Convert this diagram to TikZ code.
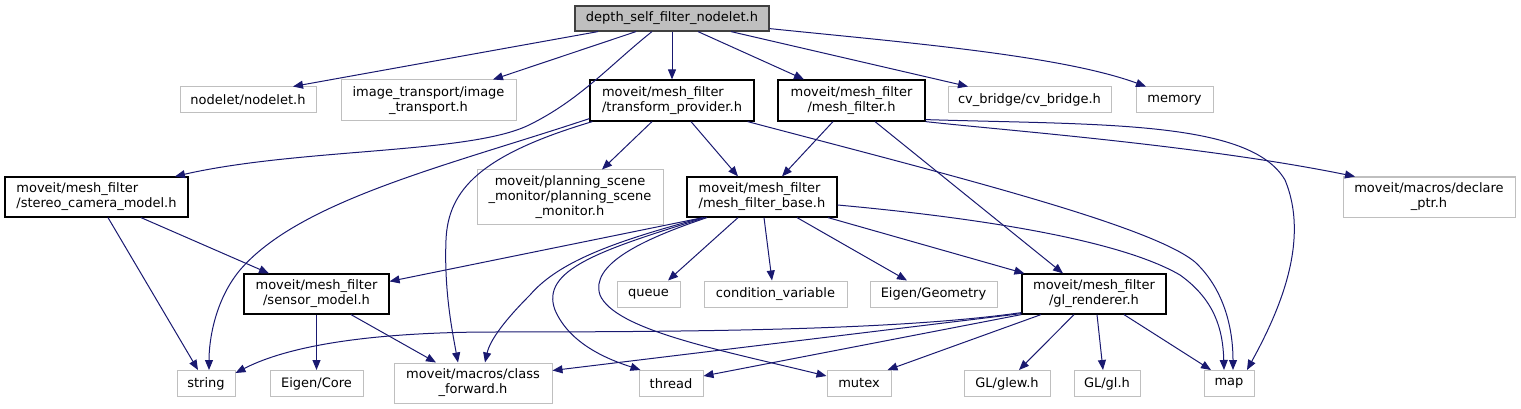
\documentclass[tikz,border=0pt]{standalone}
\usepackage{fontspec}
\setmainfont{DejaVu Sans}
\usetikzlibrary{arrows.meta,calc}
\definecolor{edgec}{HTML}{191970}
\definecolor{sysc}{HTML}{BFBFBF}
\definecolor{rootfill}{HTML}{BFBFBF}
\definecolor{darkb}{HTML}{404040}
\tikzset{
 base/.style={rectangle, inner sep=0pt, font=\fontsize{13}{15}\selectfont, align=center},
 sysbox/.style={base, draw=sysc, line width=1pt, fill=white},
 locbox/.style={base, draw=black, line width=1.2pt, fill=white},
 rootbox/.style={base, draw=darkb, fill=rootfill, line width=1.2pt},
 e/.style={draw=edgec, line width=1pt, -{Triangle[length=10pt,width=8pt]}}
}
\begin{document}
\begin{tikzpicture}[x=1pt,y=-1pt]
\useasboundingbox (0,0) rectangle (1521,409);
% row 1
\node[rootbox, minimum width=194pt, minimum height=25pt] (root) at (672,18.5) {depth\_self\_filter\_nodelet.h};
% row 2
\node[sysbox, minimum width=136pt, minimum height=26pt] (nodelet) at (248,100) {nodelet/nodelet.h};
\node[sysbox, minimum width=175pt, minimum height=41pt] (imgtr) at (428.5,100.5) {image\_transport/image\\\_transport.h};
\node[locbox, minimum width=164pt, minimum height=41pt, align=left] (tp) at (672,100.5) {moveit/mesh\_filter\\/transform\_provider.h};
\node[locbox, minimum width=147pt, minimum height=41pt] (mf) at (851.5,100.5) {moveit/mesh\_filter\\/mesh\_filter.h};
\node[sysbox, minimum width=163pt, minimum height=26pt] (cvb) at (1029.5,100) {cv\_bridge/cv\_bridge.h};
\node[sysbox, minimum width=77pt, minimum height=26pt] (memory) at (1174.5,100) {memory};
% row 3
\node[locbox, minimum width=183pt, minimum height=40pt, align=left] (stereo) at (96.5,197) {moveit/mesh\_filter\\/stereo\_camera\_model.h};
\node[sysbox, minimum width=186pt, minimum height=54pt] (psm) at (570,197) {moveit/planning\_scene\\\_monitor/planning\_scene\\\_monitor.h};
\node[locbox, minimum width=150pt, minimum height=40pt, align=left] (mfb) at (762,197) {moveit/mesh\_filter\\/mesh\_filter\_base.h};
\node[sysbox, minimum width=172pt, minimum height=40pt] (decl) at (1429,197) {moveit/macros/declare\\\_ptr.h};
% row 4
\node[locbox, minimum width=145pt, minimum height=40pt] (sensor) at (316.5,294) {moveit/mesh\_filter\\/sensor\_model.h};
\node[sysbox, minimum width=63pt, minimum height=26pt] (queue) at (648.5,294) {queue};
\node[sysbox, minimum width=143pt, minimum height=26pt] (condvar) at (775.5,294) {condition\_variable};
\node[sysbox, minimum width=127pt, minimum height=26pt] (eigeo) at (933.5,294) {Eigen/Geometry};
\node[locbox, minimum width=144pt, minimum height=40pt] (glr) at (1094,294) {moveit/mesh\_filter\\/gl\_renderer.h};
% row 5
\node[sysbox, minimum width=58pt, minimum height=26pt] (string) at (206,383.5) {string};
\node[sysbox, minimum width=93pt, minimum height=26pt] (eigcore) at (316.5,383.5) {Eigen/Core};
\node[sysbox, minimum width=158pt, minimum height=40pt] (cf) at (473,383) {moveit/macros/class\\\_forward.h};
\node[sysbox, minimum width=64pt, minimum height=26pt] (thread) at (671,383.5) {thread};
\node[sysbox, minimum width=64pt, minimum height=26pt] (mutex) at (859,383.5) {mutex};
\node[sysbox, minimum width=86pt, minimum height=26pt] (glew) at (1007,383.5) {GL/glew.h};
\node[sysbox, minimum width=66pt, minimum height=26pt] (gl) at (1107,383.5) {GL/gl.h};
\node[sysbox, minimum width=50pt, minimum height=26pt] (map) at (1229,383.5) {map};
% root edges
\draw[e] ([xshift=-74pt]root.south) -- ([xshift=45pt]nodelet.north);
\draw[e] ([xshift=-36pt]root.south) -- ([xshift=64.5pt]imgtr.north);
\draw[e] ([xshift=-20pt]root.south) .. controls (610,65) and (580,100) .. (529,125) .. controls (470,154) and (300,148) .. ([xshift=78.5pt]stereo.north);
\draw[e] (root.south) -- (tp.north);
\draw[e] ([xshift=26pt]root.south) -- ([xshift=-47.5pt]mf.north);
\draw[e] ([xshift=59pt]root.south) -- ([xshift=-61.5pt]cvb.north);
\draw[e] ($(root.south east)+(0,-3)$) .. controls (900,42) and (1060,55) .. ([xshift=-28.5pt]memory.north);
% transform_provider edges
\draw[e] ($(tp.south west)+(0,-3)$) .. controls (450,165) and (300,200) .. (240,270) .. controls (215,300) and (209,340) .. ([xshift=3pt]string.north);
\draw[e] ([xshift=3pt]tp.south west) .. controls (480,155) and (448,190) .. (446,240) .. controls (444,290) and (452,330) .. ([xshift=-15pt]cf.north);
\draw[e] ([xshift=-20pt]tp.south) -- ([xshift=32pt]psm.north);
\draw[e] ([xshift=19pt]tp.south) -- ([xshift=-24pt]mfb.north);
\draw[e] ([xshift=-7pt]tp.south east) .. controls (950,175) and (1150,225) .. (1195,262) .. controls (1225,290) and (1233,330) .. ([xshift=4pt]map.north);
% mesh_filter edges
\draw[e] ([xshift=-18.5pt]mf.south) -- ([xshift=20pt]mfb.north);
\draw[e] ([xshift=23.5pt]mf.south) -- ([xshift=-31pt]glr.north);
\draw[e] (mf.south east) .. controls (1000,130) and (1200,145) .. ([xshift=-74pt]decl.north);
\draw[e] ($(mf.south east)+(0,-2)$) .. controls (1100,125) and (1250,120) .. (1285,180) .. controls (1310,240) and (1280,310) .. ([xshift=18pt]map.north);
% mesh_filter_base edges
\draw[e] ([xshift=-59pt]mfb.south) -- ($(sensor.north east)+(0,8)$);
\draw[e] ([xshift=-59pt]mfb.south) .. controls (620,240) and (560,260) .. (530,295) .. controls (505,320) and (490,340) .. ([xshift=12pt]cf.north);
\draw[e] ([xshift=-57pt]mfb.south) .. controls (600,250) and (540,270) .. (555,310) .. controls (570,345) and (610,360) .. ([xshift=2pt]thread.north west);
\draw[e] ([xshift=-55pt]mfb.south) .. controls (640,240) and (590,265) .. (600,295) .. controls (615,330) and (720,350) .. ($(mutex.north west)+(0,6)$);
\draw[e] ([xshift=-24pt]mfb.south) -- ([xshift=19.5pt]queue.north);
\draw[e] ([xshift=2pt]mfb.south) -- ([xshift=-3.5pt]condvar.north);
\draw[e] ([xshift=35pt]mfb.south) -- ([xshift=-26.5pt]eigeo.north);
\draw[e] ([xshift=66pt]mfb.south) -- ([xshift=3pt]glr.north west);
\draw[e] ($(mfb.east)+(0,8)$) .. controls (980,218) and (1120,240) .. (1180,275) .. controls (1215,300) and (1223,330) .. ([xshift=-5pt]map.north);
% stereo edges
\draw[e] ([xshift=11.5pt]stereo.south) -- ([xshift=-8pt]string.north);
\draw[e] ([xshift=44.5pt]stereo.south) -- ([xshift=-47.5pt]sensor.north);
% sensor edges
\draw[e] (sensor.south) -- (eigcore.north);
\draw[e] ([xshift=34.5pt]sensor.south) -- ([xshift=-37pt]cf.north);
% gl_renderer edges
\draw[e] ($(glr.south west)+(0,-2)$) .. controls (900,330) and (700,332) .. (485,332) .. controls (350,333) and (280,350) .. ($(string.north east)+(0,3)$);
\draw[e] ($(glr.south west)+(0,-1)$) -- ($(cf.north east)+(0,8)$);
\draw[e] (glr.south west) -- ($(thread.north east)+(0,6)$);
\draw[e] ([xshift=-53pt]glr.south) -- ([xshift=-4pt]mutex.north east);
\draw[e] ([xshift=-20pt]glr.south) -- ([xshift=12pt]glew.north);
\draw[e] ([xshift=3pt]glr.south) -- ([xshift=-4pt]gl.north);
\draw[e] ([xshift=30pt]glr.south) -- ([xshift=-18pt]map.north);
\end{tikzpicture}
\end{document}
